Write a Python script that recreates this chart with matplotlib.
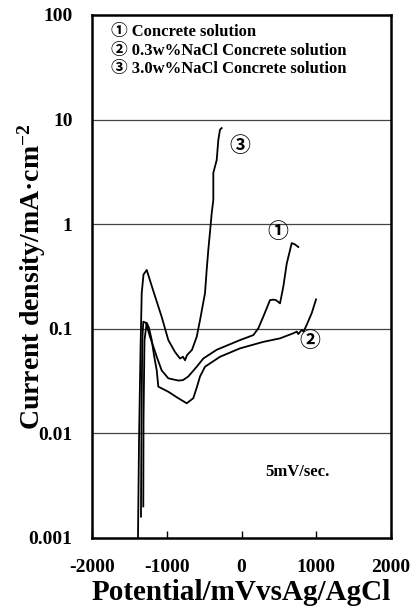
import matplotlib
matplotlib.use("Agg")
import matplotlib.pyplot as plt

# curve 1: Concrete solution
pot1 = [-1345, -1338, -1327, -1314, -1278, -1224, -1134, -1068, -979, -846, -783,
        -712, -599, -511, -332, -20, 158, 225, 292, 355, 381, 425, 461, 515, 559,
        605, 672, 716, 760]
cur1 = [0.0016, 0.0134, 0.078, 0.117, 0.114, 0.084, 0.054, 0.040, 0.0336, 0.032,
        0.0323, 0.035, 0.0434, 0.052, 0.063, 0.078, 0.087, 0.101, 0.131, 0.169,
        0.188, 0.19, 0.188, 0.175, 0.252, 0.42, 0.66, 0.64, 0.605]

# curve 2: 0.3w%NaCl Concrete solution
pot2 = [-1314, -1311, -1298, -1268, -1238, -1201, -1171, -1134, -1113, -979, -846,
        -733, -645, -595, -555, -488, -288, -20, 292, 515, 693, 740, 760, 805, 830,
        872, 939, 997]
cur2 = [0.002, 0.0134, 0.078, 0.114, 0.102, 0.078, 0.056, 0.040, 0.028, 0.025,
        0.0217, 0.0194, 0.0217, 0.028, 0.035, 0.0434, 0.054, 0.065, 0.075, 0.081,
        0.0906, 0.094, 0.089, 0.0975, 0.094, 0.109, 0.141, 0.191]

# curve 3: 3.0w%NaCl Concrete solution
pot3 = [-1385, -1371, -1351, -1335, -1311, -1268, -1184, -1068, -979, -890, -823,
        -783, -756, -729, -662, -599, -555, -488, -466, -444, -421, -399, -377,
        -377, -332, -310, -288, -265]
cur3 = [0.001, 0.0086, 0.063, 0.22, 0.33, 0.365, 0.235, 0.13, 0.078, 0.06, 0.052,
        0.054, 0.050, 0.056, 0.063, 0.084, 0.121, 0.22, 0.365, 0.57, 0.85, 1.27,
        1.7, 3.1, 4.1, 6.4, 8.0, 8.3]

xticks = [-2000, -1000, 0, 1000, 2000]
xtick_labels = ["-2000", "-1000", "0", "1000", "2000"]
yticks = [0.001, 0.01, 0.1, 1, 10, 100]
ytick_labels = ["0.001", "0.01", "0.1", "1", "10", "100"]

legend_lines = ["① Concrete solution",
                "② 0.3w%NaCl Concrete solution",
                "③ 3.0w%NaCl Concrete solution"]

serif = ["Liberation Serif", "DejaVu Serif", "Noto Sans CJK JP"]
plt.rcParams["font.family"] = serif
plt.rcParams["font.weight"] = "bold"
plt.rcParams["mathtext.fontset"] = "custom"
plt.rcParams["mathtext.rm"] = "Liberation Serif:bold"
plt.rcParams["mathtext.bf"] = "Liberation Serif:bold"
plt.rcParams["mathtext.default"] = "bf"

fig = plt.figure(figsize=(4.15, 6.09), dpi=100)
ax = fig.add_axes([0.2217, 0.1166, 0.7205, 0.8588])

for p, c in [(pot1, cur1), (pot2, cur2), (pot3, cur3)]:
    ax.plot(p, c, color="black", lw=1.3)

ax.set_yscale("log")
ax.set_xlim(-2000, 2000)
ax.set_ylim(0.001, 100)
ax.set_yticks(yticks)
ax.set_yticklabels(ytick_labels)
ax.minorticks_off()
ax.set_xticks(xticks)
ax.set_xticklabels(xtick_labels)
ax.tick_params(axis="y", length=0, pad=14, labelsize=14)
ax.tick_params(axis="x", direction="in", length=5, width=1, pad=15, labelsize=14)
for t in ax.get_xticklabels() + ax.get_yticklabels():
    t.set_fontweight("bold")

for y in yticks[1:-1]:
    ax.axhline(y, color="#444444", lw=0.9, zorder=0)

for s in ax.spines.values():
    s.set_linewidth(1.8)

ax.set_xlabel("Potential/mVvsAg/AgCl", fontsize=21, fontweight="bold")
ax.xaxis.set_label_coords(0.5, -0.078)
ax.set_ylabel("Current density/mA·cm$^{-2}$", fontsize=20, fontweight="bold")
ax.yaxis.set_label_coords(-0.148, 0.5)

for i, line in enumerate(legend_lines):
    ax.text(0.065, 0.968 - i * 0.036, line, transform=ax.transAxes, fontsize=12,
            fontweight="bold", va="center", ha="left", family=serif)

ax.text(490, 0.82, "①", fontsize=15, ha="center", va="center", family=serif)
ax.text(916, 0.075, "②", fontsize=15, ha="center", va="center", family=serif)
ax.text(-20, 5.5, "③", fontsize=15, ha="center", va="center", family=serif)
ax.text(746, 0.0043, "5mV/sec.", fontsize=12, ha="center", va="center",
        fontweight="bold")

fig.savefig("out.png", dpi=100)
